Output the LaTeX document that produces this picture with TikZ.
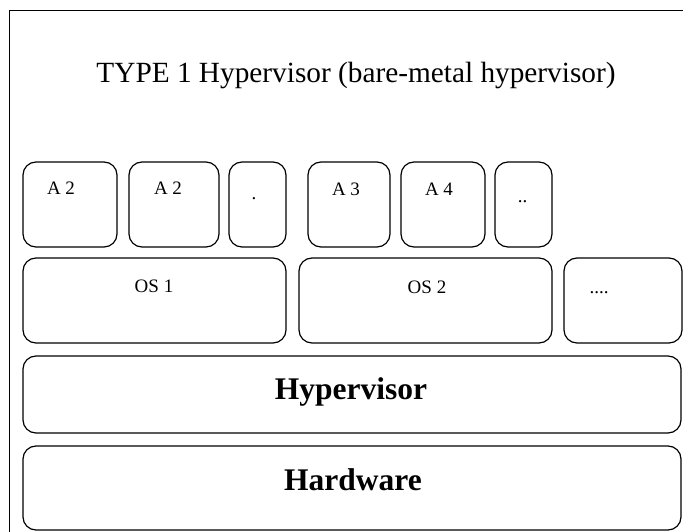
\documentclass[tikz,border=0pt]{standalone}
\usepackage{fontspec}
\setmainfont{Liberation Serif}
\tikzset{
  box/.style={draw=black, line width=1.2pt, rounded corners=13pt, inner sep=0pt, minimum height=85pt},
  lab/.style={anchor=base, inner sep=0pt, font=\fontsize{19}{19}\selectfont},
  big/.style={anchor=base, inner sep=0pt, font=\fontsize{31.5}{31.5}\selectfont\bfseries},
}
\begin{document}
\begin{tikzpicture}[x=1pt,y=-1pt]
\useasboundingbox (0,0) rectangle (683,532);
\clip (0,0) rectangle (683,532);
% outer frame (runs past the right and bottom edges)
\node[draw=black, line width=1.2pt, inner sep=0pt, minimum width=700pt, minimum height=540pt, anchor=north west] (frame) at (9,10) {};
\node[anchor=base, inner sep=0pt, font=\fontsize{29.3}{29.3}\selectfont] (title) at (356,83) {TYPE 1 Hypervisor (bare-metal hypervisor)};
% applications
\node[box, minimum width=94pt] (a1) at (70,204.5) {};
\node[box, minimum width=90pt] (a2) at (174,204.5) {};
\node[box, minimum width=57pt] (a3) at (257.5,204.5) {};
\node[box, minimum width=82pt] (a4) at (349,204.5) {};
\node[box, minimum width=84pt] (a5) at (443,204.5) {};
\node[box, minimum width=57pt] (a6) at (523.5,204.5) {};
\node[lab] (a1t) at (61,194) {A 2};
\node[lab] (a2t) at (168,194) {A 2};
\node[lab] (a3t) at (254,200) {.};
\node[lab] (a4t) at (346,195) {A 3};
\node[lab] (a5t) at (439,195) {A 4};
\node[lab] (a6t) at (522.5,202) {..};
% guest operating systems
\node[box, minimum width=263pt] (os1) at (154.5,300.5) {};
\node[box, minimum width=253pt] (os2) at (425.5,300.5) {};
\node[box, minimum width=118pt] (os3) at (623,300.5) {};
\node[lab] (os1t) at (154,292) {OS 1};
\node[lab] (os2t) at (427,293) {OS 2};
\node[lab] (os3t) at (599,293) {....};
% hypervisor and hardware layers
\node[box, minimum width=658pt, minimum height=77pt] (hyp) at (352,394.5) {};
\node[box, minimum width=658pt, minimum height=84pt] (hw) at (352,488) {};
\node[big] (hypt) at (351,399) {Hypervisor};
\node[big] (hwt) at (353,490) {Hardware};
\end{tikzpicture}
\end{document}
